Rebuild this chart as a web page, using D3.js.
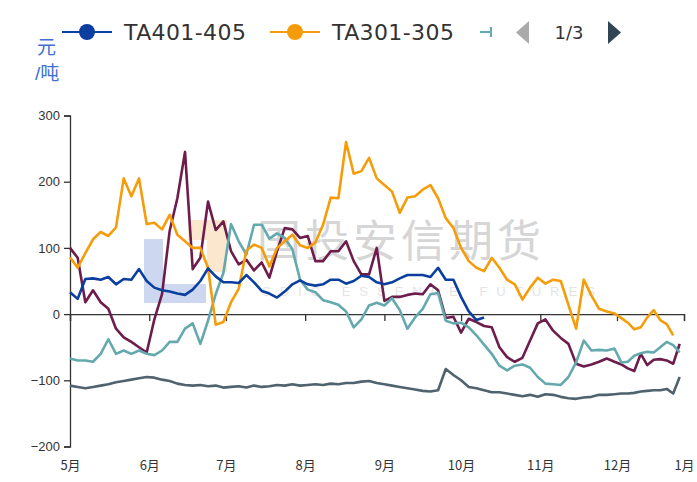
<!DOCTYPE html>
<html>
<head>
<meta charset="utf-8">
<script src="https://cdn.jsdelivr.net/npm/d3@7"></script>
<style>
  body { margin: 0; background: #fff; }
  text { font-family: "Liberation Sans", "Noto Sans CJK SC", sans-serif; }
</style>
</head>
<body>
<div id="chart"></div>
<script>
// sample dates (seasonal axis, May -> Dec)
var dates = ["05-01","05-04","05-07","05-10","05-13","05-16","05-19","05-22","05-25","05-28",
  "05-31","06-03","06-06","06-09","06-12","06-15","06-18","06-21","06-24","06-27",
  "06-30","07-03","07-06","07-09","07-12","07-15","07-18","07-21","07-24","07-27",
  "07-30","08-02","08-05","08-08","08-11","08-14","08-17","08-20","08-23","08-26",
  "08-29","09-01","09-04","09-07","09-10","09-13","09-16","09-19","09-22","09-25",
  "09-28","10-01","10-04","10-07","10-10","10-13","10-16","10-19","10-22","10-25",
  "10-28","10-31","11-03","11-06","11-09","11-12","11-15","11-18","11-21","11-24",
  "11-27","11-30","12-03","12-06","12-09","12-12","12-15","12-18","12-21","12-24",
  "12-27","12-30"];

var ta401 = [33,23,53,54,52,56,45,53,52,68, 50,40,36,34,31,29,37,50,69,57,
  48,48,47,59,48,35,31,25,34,45, 51,45,43,45,52,52,46,50,58,56,
  48,45,48,54,59,59,59,56,70,52, 52,26,4,-9,-5];

var ta301 = [86,70,92,113,124,118,131,205,178,205, 136,138,128,150,120,110,100,100,70,-16,
  -12,18,38,96,105,100,72,100,110,120, 104,100,108,135,176,175,260,212,216,236,
  205,195,185,153,176,178,188,195,175,145, 130,100,80,70,65,85,70,52,45,22,
  40,55,46,52,50,14,-22,52,28,8, 4,1,-6,-13,-23,-20,-5,6,-9,-15,
  -32,null];

var ta201 = [-67,-70,-70,-72,-60,-38,-60,-55,-60,-55, -60,-62,-55,-42,-42,-22,-14,-45,-10,30,
  62,136,110,90,135,135,114,122,115,98, 52,37,33,21,18,14,4,-20,-8,13,
  17,13,24,6,-22,-5,8,30,32,-10, -14,-13,-20,-32,-46,-60,-78,-85,-78,-76,
  -81,-95,-105,-106,-107,-95,-73,-40,-55,-54, -55,-52,-73,-72,-63,-59,-57,-58,-50,-42,
  -47,-58];

var ta101 = [100,85,18,36,18,8,-22,-35,-42,-50, -58,-8,30,126,175,245,68,85,170,127,
  140,95,75,82,66,78,55,95,130,128, 115,118,80,80,95,95,110,80,60,60,
  100,20,26,26,29,31,30,45,36,-6, -4,-28,-7,-12,-18,-20,-50,-65,-72,-66,
  -40,-14,-8,-25,-36,-45,-75,-79,-76,-72, -67,-72,-76,-82,-86,-60,-77,-69,-68,-70,
  -75,-45];

var ta001 = [-108,-110,-112,-110,-108,-106,-103,-101,-99,-97, -95,-96,-99,-101,-105,-107,-108,-107,-109,-108,
  -111,-110,-109,-111,-108,-110,-109,-107,-108,-106, -108,-107,-106,-107,-105,-106,-104,-104,-102,-101,
  -104,-106,-108,-110,-112,-114,-116,-117,-115,-83, -92,-100,-110,-112,-115,-118,-118,-120,-122,-124,
  -122,-125,-121,-122,-125,-127,-128,-126,-125,-122, -122,-121,-120,-120,-119,-117,-116,-115,-115,-113,
  -120,-95];

var seriesNames = ["TA401-405", "TA301-305", "TA201-205", "TA101-105", "TA001-005"];
var seriesColors = ["#0b3f9f", "#f59c0b", "#64a9ae", "#6e1c4c", "#4f626d"];
var monthTicks = ["2023-05-01","2023-06-01","2023-07-01","2023-08-01","2023-09-01",
  "2023-10-01","2023-11-01","2023-12-01","2024-01-01"];
var monthLabels = ["5月","6月","7月","8月","9月","10月","11月","12月","1月"];
var yTicks = [-200, -100, 0, 100, 200, 300];

var width = 697, height = 482;
var parse = d3.timeParse("%Y-%m-%d");

var svg = d3.select("#chart").append("svg")
  .attr("width", width)
  .attr("height", height);

// x: time axis, december is a little narrower in the source chart
var x = d3.scaleTime()
  .domain([parse("2023-05-01"), parse("2023-12-01"), parse("2024-01-01")])
  .range([70, 617, 684]);

var y = d3.scaleLinear()
  .domain([-200, 300])
  .range([446.5, 115.5]);

// watermark
var wm = svg.append("g").attr("class", "watermark");
wm.append("path")
  .attr("d", "M144,239H163V284H206V303H144Z")
  .attr("fill", "#c9d3ee").attr("opacity", 0.9);
wm.append("path")
  .attr("d", "M188,220H227V272H207V240H188Z")
  .attr("fill", "#f9e4c9").attr("opacity", 0.9);
wm.append("text")
  .attr("x", 257).attr("y", 257)
  .text("国投安信期货")
  .style("font-family", "Noto Sans CJK SC")
  .style("font-size", "44px")
  .style("letter-spacing", "4px")
  .attr("fill", "#d6d6d6");
wm.append("text")
  .attr("x", 262).attr("y", 296)
  .text("SDIC ESSENCE FUTURES")
  .style("font-size", "13px")
  .style("letter-spacing", "9px")
  .attr("fill", "#e4e4e4");

// y axis
var yAxis = svg.append("g")
  .attr("class", "yAxis")
  .attr("transform", "translate(70,0)")
  .call(d3.axisLeft(y).tickValues(yTicks).tickSize(6).tickPadding(4));
yAxis.select(".domain").attr("stroke", "#333").attr("stroke-width", 1.3);
yAxis.selectAll("line").attr("stroke", "#333").attr("stroke-width", 1.3);
yAxis.selectAll("text")
  .attr("fill", "#333")
  .style("font-size", "13px");

// x axis line sits on zero
var xAxis = svg.append("g")
  .attr("class", "xAxis")
  .attr("transform", "translate(0," + y(0) + ")")
  .call(d3.axisBottom(x).tickValues(monthTicks.map(parse)).tickSize(7).tickFormat(""));
xAxis.select(".domain").attr("stroke", "#333").attr("stroke-width", 1.3);
xAxis.selectAll("line").attr("stroke", "#333").attr("stroke-width", 1.3);

// month labels at the bottom
var xLabels = svg.append("g")
  .attr("class", "xLabels")
  .attr("transform", "translate(0,458)")
  .call(d3.axisBottom(x).tickValues(monthTicks.map(parse)).tickSize(0)
    .tickFormat(function(d, i) { return monthLabels[i]; }));
xLabels.select(".domain").remove();
xLabels.selectAll("text")
  .attr("fill", "#333")
  .style("font-family", "Noto Sans CJK SC")
  .style("font-size", "13px");

// lines
var allSeries = [ta401, ta301, ta201, ta101, ta001];
var line = d3.line()
  .defined(function(d) { return d != null; })
  .x(function(d, i) { return x(parse("2023-" + dates[i])); })
  .y(function(d) { return y(d); });

var drawOrder = [4, 3, 2, 1, 0];
svg.append("g").attr("class", "lines")
  .selectAll("path")
  .data(drawOrder)
  .join("path")
  .attr("fill", "none")
  .attr("stroke", function(k) { return seriesColors[k]; })
  .attr("stroke-width", 2.6)
  .attr("stroke-linejoin", "round")
  .attr("d", function(k) { return line(allSeries[k]); });

// unit label
var unit = svg.append("g").attr("class", "unit")
  .style("font-family", "Noto Sans CJK SC")
  .style("font-size", "19px")
  .attr("fill", "#3d6fd4");
unit.append("text").attr("x", 37).attr("y", 54).text("元");
unit.append("text").attr("x", 35).attr("y", 80).text("/吨");

// legend (page 1 of 3)
var legend = svg.append("g").attr("class", "legend");
var legendX = [62, 270];
[0, 1].forEach(function(k) {
  var g = legend.append("g").attr("transform", "translate(" + legendX[k] + ",32)");
  g.append("line").attr("x1", 0).attr("x2", 50).attr("y1", 0).attr("y2", 0)
    .attr("stroke", seriesColors[k]).attr("stroke-width", 2);
  g.append("circle").attr("cx", 25).attr("cy", 0).attr("r", 8)
    .attr("fill", seriesColors[k]);
  g.append("text").attr("x", 62).attr("y", 8)
    .text(seriesNames[k])
    .style("font-family", "DejaVu Sans")
    .style("font-size", "22px")
    .style("letter-spacing", "0.4px")
    .attr("fill", "#333");
});
// third item is cut off by the legend paging
legend.append("line").attr("x1", 480).attr("x2", 492).attr("y1", 32).attr("y2", 32)
  .attr("stroke", seriesColors[2]).attr("stroke-width", 2);
legend.append("line").attr("x1", 491).attr("x2", 491).attr("y1", 27).attr("y2", 37)
  .attr("stroke", seriesColors[2]).attr("stroke-width", 2);

legend.append("path").attr("d", "M529,21L529,44L516,32.5Z").attr("fill", "#aaa");
legend.append("text").attr("x", 569).attr("y", 39)
  .attr("text-anchor", "middle")
  .text("1/3")
  .style("font-family", "DejaVu Sans")
  .style("font-size", "18px")
  .attr("fill", "#333");
legend.append("path").attr("d", "M608,21L608,44L621,32.5Z").attr("fill", "#2f4554");
</script>
</body>
</html>
